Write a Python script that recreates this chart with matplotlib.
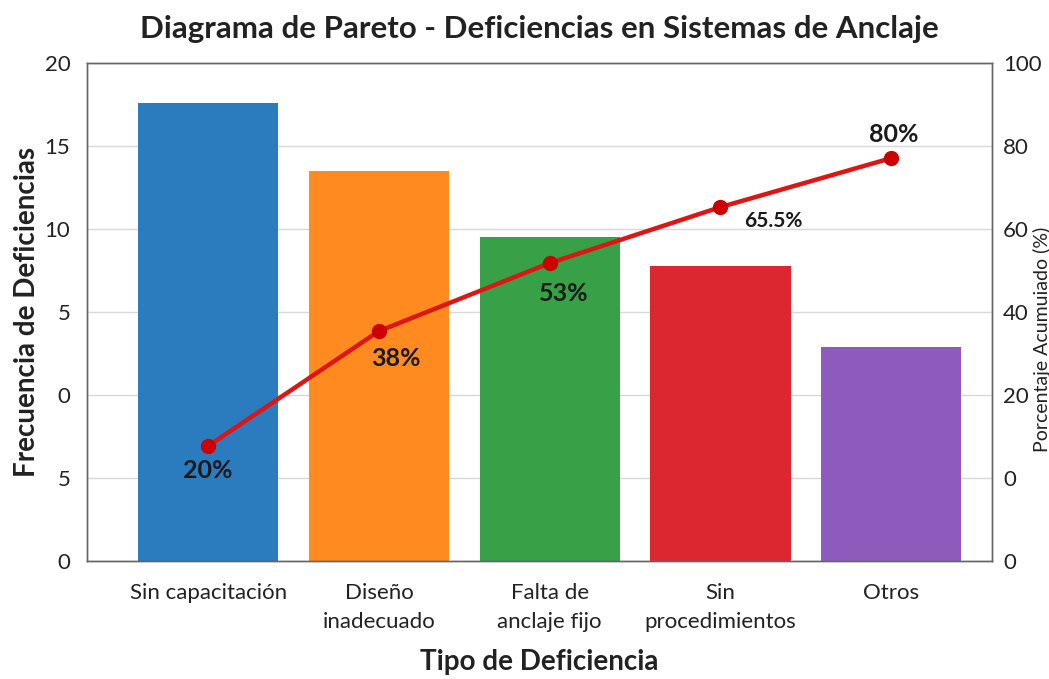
import numpy as np
import matplotlib
matplotlib.use("Agg")
import matplotlib.pyplot as plt

plt.rcParams["font.family"] = ["Lato", "DejaVu Sans"]

# datos (escala interna del eje, 0..30 y 0..120)
categorias = ["Sin capacitación", "Diseño\ninadecuado", "Falta de\nanclaje fijo",
              "Sin\nprocedimientos", "Otros"]
frecuencia = [27.6, 23.5, 19.5, 17.8, 12.9]
acumulado = [27.7, 55.4, 71.8, 85.3, 97.1]
etiquetas_pct = ["20%", "38%", "53%", "65.5%", "80%"]

ticks_izq = [0, 5, 10, 15, 20, 25, 30]
etiquetas_izq = ["0", "5", "0", "5", "10", "15", "20"]
ticks_der = [0, 20, 40, 60, 80, 100, 120]
etiquetas_der = ["0", "0", "20", "40", "60", "80", "100"]

colores = ["#2b7bbf", "#ff8a1f", "#38a046", "#dc2730", "#8e5bbd"]

fig = plt.figure(figsize=(10.49, 6.79), dpi=100)
ax = fig.add_axes([0.083, 0.174, 0.8627, 0.733])
x = np.arange(len(categorias))

ax.bar(x, frecuencia, width=0.82, color=colores, zorder=2)
ax.set_xlim(-0.709, 4.59)
ax.set_ylim(0, 30)
ax.set_yticks(ticks_izq)
ax.set_yticklabels(etiquetas_izq)
ax.set_xticks(x)
ax.set_xticklabels(categorias, fontsize=16, color="#222222", linespacing=1.55)
ax.tick_params(axis="both", length=0, colors="#222222")
ax.tick_params(axis="y", labelsize=16, pad=12)
ax.tick_params(axis="x", pad=16)
ax.grid(axis="y", color="#d8d8d8", linewidth=1, zorder=0)
ax.set_axisbelow(True)
ax.set_ylabel("Frecuencia de Deficiencias", fontsize=20, fontweight="bold",
              color="#222222")
ax.yaxis.set_label_coords(-0.052, 0.5)
ax.set_xlabel("Tipo de Deficiencia", fontsize=20, fontweight="bold",
              color="#222222", labelpad=12)
ax.set_title("Diagrama de Pareto - Deficiencias en Sistemas de Anclaje",
             fontsize=22.5, fontweight="bold", color="#222222", pad=18)

ax2 = ax.twinx()
ax2.set_ylim(0, 120)
ax2.set_yticks(ticks_der)
ax2.set_yticklabels(etiquetas_der)
ax2.tick_params(axis="y", length=0, labelsize=16, colors="#222222", pad=8)
ax2.set_ylabel("Porcentaje Acumuiado (%)", fontsize=14, color="#222222")
ax2.yaxis.set_label_coords(1.045, 0.445)
ax2.plot(x, acumulado, color="#dd1515", linewidth=3.2, marker="o",
         markersize=10, markerfacecolor="#cc0000", markeredgecolor="#cc0000", zorder=3)

desplazamientos = [(0, -18), (12, -20), (10, -22), (38, -10), (2, 17)]
tamanos = [18, 18, 18, 15, 18]
for xi, yi, txt, off, fs in zip(x, acumulado, etiquetas_pct, desplazamientos, tamanos):
    ax2.annotate(txt, (xi, yi), xytext=off, textcoords="offset points",
                 ha="center", va="center", fontsize=fs, fontweight="bold",
                 color="#1a1a1a")

for a in (ax, ax2):
    for s in a.spines.values():
        s.set_color("#666666")
        s.set_linewidth(1)

fig.savefig("out.png", dpi=100)
